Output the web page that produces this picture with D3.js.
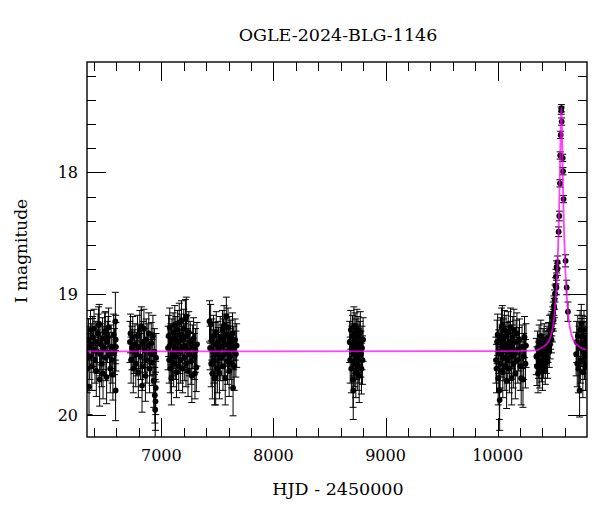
<!DOCTYPE html>
<html>
<head>
<meta charset="utf-8">
<script src="https://cdn.jsdelivr.net/npm/d3@7"></script>
<style>
html,body{margin:0;padding:0;background:#fff;}
svg{display:block;}
text{font-family:"DejaVu Serif",serif;fill:#000;}
</style>
</head>
<body>
<svg id="chart" width="600" height="512"></svg>
<script>
// ---- data (HJD-2450000, I mag, error) ----
const title = "OGLE-2024-BLG-1146";
const xLabel = "HJD - 2450000";
const yLabel = "I magnitude";
const xMajorTicks = [7000, 8000, 9000, 10000];
const yMajorTicks = [18, 19, 20];

const season2013 = [
[6340,19.62,0.20],[6345,19.45,0.18],[6350,19.38,0.17],[6355,19.77,0.23],[6362,19.52,0.19],
[6368,19.30,0.16],[6375,19.43,0.18],[6380,19.60,0.20],[6388,19.36,0.17],[6395,19.47,0.18],
[6400,19.29,0.16],[6408,19.55,0.19],[6415,19.40,0.17],[6420,19.64,0.21],[6428,19.48,0.18],
[6435,19.33,0.16],[6440,19.26,0.15],[6446,19.25,0.16],[6450,19.71,0.22],[6455,19.50,0.18],
[6462,19.42,0.17],[6468,19.58,0.19],[6475,19.37,0.17],[6480,19.66,0.21],[6488,19.45,0.18],
[6495,19.32,0.16],[6500,19.31,0.16],[6505,19.53,0.19],[6512,19.69,0.22],[6518,19.40,0.17],
[6525,19.36,0.17],[6530,19.28,0.16],[6538,19.50,0.18],[6545,19.62,0.20],[6552,19.44,0.18],
[6560,19.55,0.19],[6568,19.67,0.21],[6575,19.34,0.17],[6582,19.48,0.19],[6590,19.23,0.24],
[6592,19.80,0.25],[6593,19.38,0.20],[6595,19.44,0.20]];

const season2014 = [
[6720,19.40,0.17],[6725,19.33,0.16],[6730,19.55,0.19],[6738,19.45,0.18],[6745,19.36,0.17],
[6750,19.62,0.20],[6758,19.48,0.18],[6765,19.42,0.17],[6772,19.58,0.19],[6780,19.50,0.18],
[6788,19.35,0.17],[6795,19.65,0.21],[6800,19.44,0.18],[6808,19.30,0.16],[6815,19.52,0.19],
[6822,19.27,0.16],[6828,19.76,0.22],[6832,19.60,0.20],[6838,19.40,0.17],[6845,19.29,0.16],
[6850,19.47,0.18],[6858,19.68,0.21],[6865,19.38,0.17],[6872,19.55,0.19],[6880,19.43,0.18],
[6888,19.33,0.17],[6895,19.62,0.20],[6902,19.50,0.18],[6910,19.41,0.17],[6918,19.57,0.19],
[6925,19.35,0.17],[6932,19.72,0.22],[6938,19.48,0.19],[6942,19.84,0.23],[6945,19.96,0.25],
[6948,19.89,0.24],[6950,19.78,0.22],[6953,19.53,0.20]];

const season2015 = [
[7060,19.45,0.18],[7065,19.35,0.17],[7070,19.55,0.19],[7075,19.28,0.16],[7080,19.62,0.20],
[7085,19.42,0.17],[7090,19.70,0.22],[7095,19.38,0.17],[7100,19.50,0.18],[7105,19.32,0.16],
[7110,19.58,0.19],[7115,19.44,0.18],[7120,19.26,0.16],[7125,19.52,0.19],[7130,19.36,0.17],
[7135,19.65,0.21],[7140,19.47,0.18],[7145,19.30,0.16],[7150,19.40,0.17],[7155,19.60,0.20],
[7160,19.24,0.16],[7165,19.48,0.18],[7170,19.55,0.19],[7175,19.34,0.17],[7180,19.22,0.16],
[7185,19.45,0.18],[7190,19.62,0.20],[7195,19.38,0.17],[7200,19.29,0.16],[7205,19.53,0.19],
[7210,19.43,0.18],[7215,19.21,0.16],[7220,19.58,0.19],[7223,19.19,0.16],[7228,19.35,0.17],
[7232,19.47,0.18],[7238,19.64,0.21],[7245,19.32,0.17],[7250,19.50,0.18],[7258,19.40,0.17],
[7265,19.56,0.19],[7272,19.68,0.22],[7280,19.44,0.18],[7288,19.37,0.17],[7295,19.52,0.19],
[7300,19.66,0.21],[7305,19.47,0.18],[7312,19.61,0.20],[7318,19.42,0.18]];

const season2016 = [
[7430,19.23,0.17],[7435,19.45,0.18],[7440,19.25,0.16],[7445,19.58,0.19],[7450,19.38,0.17],
[7455,19.66,0.21],[7460,19.48,0.18],[7465,19.35,0.17],[7470,19.55,0.19],[7475,19.70,0.22],
[7480,19.42,0.18],[7485,19.70,0.22],[7490,19.32,0.17],[7495,19.50,0.18],[7500,19.62,0.20],
[7505,19.40,0.17],[7510,19.46,0.18],[7518,19.66,0.21],[7525,19.36,0.17],[7530,19.53,0.19],
[7538,19.44,0.18],[7545,19.30,0.16],[7550,19.60,0.20],[7555,19.38,0.17],[7560,19.26,0.16],
[7565,19.50,0.18],[7570,19.70,0.22],[7575,19.34,0.17],[7580,19.19,0.16],[7585,19.42,0.18],
[7590,19.56,0.19],[7595,19.28,0.16],[7600,19.47,0.18],[7605,19.64,0.21],[7610,19.36,0.17],
[7615,19.52,0.19],[7620,19.40,0.18],[7628,19.58,0.20],[7635,19.33,0.17],[7640,19.78,0.23],
[7645,19.45,0.18],[7650,19.60,0.20],[7658,19.38,0.17],[7665,19.50,0.19],[7672,19.43,0.18]];

const season2019 = [
[8680,19.40,0.17],[8685,19.55,0.19],[8690,19.30,0.16],[8695,19.62,0.20],[8700,19.45,0.18],
[8705,19.35,0.17],[8710,19.71,0.23],[8712,19.80,0.24],[8715,19.50,0.18],[8718,19.27,0.16],
[8722,19.42,0.17],[8725,19.58,0.19],[8728,19.33,0.17],[8732,19.48,0.18],[8735,19.65,0.21],
[8738,19.38,0.17],[8742,19.52,0.19],[8745,19.29,0.16],[8748,19.44,0.18],[8752,19.60,0.20],
[8755,19.36,0.17],[8758,19.47,0.18],[8762,19.55,0.19],[8765,19.68,0.22],[8770,19.41,0.18],
[8775,19.32,0.17],[8780,19.50,0.19],[8785,19.62,0.21],[8790,19.45,0.18],[8795,19.55,0.20],
[8800,19.38,0.18]];

const season2023 = [
[9985,19.55,0.19],[9990,19.62,0.20],[9995,19.40,0.18],[10000,19.34,0.17],[10005,19.70,0.22],
[10010,19.48,0.18],[10015,19.80,0.24],[10018,19.88,0.25],[10022,19.58,0.20],[10026,19.37,0.17],
[10030,19.50,0.19],[10035,19.28,0.16],[10040,19.44,0.18],[10042,19.26,0.16],[10046,19.65,0.21],
[10050,19.38,0.17],[10055,19.53,0.19],[10060,19.30,0.16],[10065,19.60,0.20],[10070,19.45,0.18],
[10075,19.35,0.17],[10080,19.72,0.23],[10085,19.42,0.18],[10090,19.55,0.19],[10095,19.32,0.17],
[10100,19.48,0.18],[10105,19.62,0.20],[10110,19.40,0.17],[10115,19.28,0.16],[10120,19.52,0.19],
[10125,19.70,0.22],[10130,19.44,0.18],[10135,19.36,0.17],[10140,19.58,0.20],[10145,19.30,0.17],
[10150,19.50,0.18],[10158,19.66,0.21],[10165,19.40,0.18],[10172,19.33,0.17],[10180,19.55,0.19],
[10188,19.46,0.18],[10195,19.38,0.17],[10202,19.60,0.20],[10210,19.70,0.22],[10218,19.44,0.18],
[10226,19.71,0.23],[10232,19.52,0.19],[10240,19.36,0.17],[10248,19.58,0.20],[10253,19.43,0.18]];

const season2024 = [
[10345,19.52,0.15],[10350,19.60,0.16],[10355,19.45,0.14],[10360,19.66,0.16],[10365,19.55,0.15],
[10370,19.40,0.14],[10375,19.62,0.16],[10380,19.50,0.15],[10385,19.35,0.13],[10390,19.58,0.15],
[10395,19.48,0.14],[10400,19.64,0.16],[10405,19.43,0.14],[10410,19.55,0.15],[10415,19.38,0.13],
[10420,19.50,0.14],[10425,19.60,0.15],[10430,19.45,0.14],[10435,19.52,0.14],[10440,19.40,0.13],
[10445,19.56,0.14],[10450,19.44,0.13],[10455,19.36,0.12],[10460,19.48,0.13],[10464,19.30,0.12],
[10468,19.42,0.12],[10472,19.35,0.11],[10476,19.28,0.11],[10480,19.38,0.11],[10484,19.25,0.10],
[10488,19.30,0.10],[10492,19.20,0.09],[10495,19.16,0.09],[10498,19.22,0.09],[10502,19.10,0.08],
[10505,19.12,0.08],[10508,19.05,0.08],[10512,19.00,0.07],[10517,18.94,0.07],[10520,18.86,0.06],
[10524,18.95,0.06],[10526,18.78,0.05],[10533,18.80,0.05],[10535,18.74,0.05],[10544,18.49,0.04],
[10550,18.36,0.04],[10556,18.09,0.03],[10558,17.86,0.03],[10562,17.69,0.03],[10567,17.49,0.03],
[10569,17.47,0.03],[10571,17.58,0.03],[10580,17.88,0.03],[10583,17.99,0.03],[10588,18.22,0.03],
[10606,18.73,0.05],[10616,18.95,0.06],[10627,19.15,0.08]];

const season2025 = [
[10700,19.50,0.18],[10705,19.40,0.17],[10710,19.58,0.19],[10715,19.35,0.17],[10720,19.62,0.20],
[10725,19.45,0.18],[10731,19.80,0.22],[10735,19.30,0.16],[10740,19.55,0.19],[10746,19.25,0.16],
[10750,19.42,0.18],[10755,19.35,0.17],[10760,19.65,0.21],[10765,19.48,0.18],[10770,19.30,0.16],
[10775,19.52,0.19],[10780,19.40,0.17],[10785,19.60,0.20],[10790,19.45,0.18],[10795,19.36,0.17]];

// model curve
const modelHJD = [6337,10200,10318,10398,10458,10490,10505,10515,10525,10535,10545,10553,10560,10565,10568,
                  10571,10576,10583,10591,10601,10611,10621,10631,10646,10678,10738,10797];
const modelMag = [19.478,19.476,19.472,19.445,19.39,19.29,19.19,19.08,18.95,18.74,18.44,18.11,17.76,17.53,17.47,
                  17.53,17.76,18.11,18.44,18.74,18.95,19.08,19.19,19.29,19.39,19.445,19.465];

// ---- layout ----
const svg = d3.select("#chart");
const L = 87, R = 587, T = 62, B = 437;
const x = d3.scaleLinear().domain([6337, 10797]).range([L, R]);
const y = d3.scaleLinear().domain([17.088, 20.185]).range([T, B]);

const allData = [].concat(season2013, season2014, season2015, season2016, season2019, season2023, season2024, season2025);

svg.append("defs").append("clipPath").attr("id","clip")
  .append("rect").attr("x",L).attr("y",T).attr("width",R-L).attr("height",B-T);

const plot = svg.append("g").attr("clip-path","url(#clip)");

// error bars
const eb = plot.append("g").attr("stroke","#000").attr("stroke-width",1).attr("fill","none");
allData.forEach(d => {
  const cx = x(d[0]), y1 = y(d[1]-d[2]), y2 = y(d[1]+d[2]);
  eb.append("line").attr("x1",cx).attr("x2",cx).attr("y1",y1).attr("y2",y2);
  eb.append("line").attr("x1",cx-3.5).attr("x2",cx+3.5).attr("y1",y1).attr("y2",y1);
  eb.append("line").attr("x1",cx-3.5).attr("x2",cx+3.5).attr("y1",y2).attr("y2",y2);
});
// points
plot.append("g").selectAll("circle").data(allData).join("circle")
  .attr("cx",d=>x(d[0])).attr("cy",d=>y(d[1])).attr("r",2.9).attr("fill","#000");

// model
const model = modelHJD.map((t,i)=>[t, modelMag[i]]);
plot.append("path").datum(model)
  .attr("d", d3.line().x(d=>x(d[0])).y(d=>y(d[1])).curve(d3.curveMonotoneX))
  .attr("fill","none").attr("stroke","#ff00ff").attr("stroke-opacity",0.75).attr("stroke-width",1.8);

// ticks
const tk = svg.append("g").attr("stroke","#000").attr("stroke-width",1);
const xMinor = d3.range(6400, 10800, 200);
xMinor.forEach(v => {
  const major = xMajorTicks.includes(v);
  const len = major ? 19 : 9;
  const px = Math.round(x(v))+0.5;
  tk.append("line").attr("x1",px).attr("x2",px).attr("y1",B).attr("y2",B-len);
  tk.append("line").attr("x1",px).attr("x2",px).attr("y1",T).attr("y2",T+len);
});
const yMinor = d3.range(17.2, 20.1, 0.2).map(v=>Math.round(v*10)/10);
yMinor.forEach(v => {
  const major = yMajorTicks.includes(v);
  const len = major ? 19 : 9;
  const py = Math.round(y(v))+0.5;
  tk.append("line").attr("x1",L).attr("x2",L+len).attr("y1",py).attr("y2",py);
  tk.append("line").attr("x1",R).attr("x2",R-len).attr("y1",py).attr("y2",py);
});

// frame
svg.append("rect").attr("x",L).attr("y",T).attr("width",R-L).attr("height",B-T)
  .attr("fill","none").attr("stroke","#000").attr("stroke-width",1.4);

// tick labels
svg.append("g").selectAll("text").data(xMajorTicks).join("text")
  .attr("x",d=>x(d)).attr("y",461).attr("text-anchor","middle")
  .attr("font-size",16).text(d=>d);
svg.append("g").selectAll("text").data(yMajorTicks).join("text")
  .attr("x",78).attr("y",d=>y(d)+6).attr("text-anchor","end")
  .attr("font-size",16).text(d=>d);

// titles
svg.append("text").attr("x",338).attr("y",41).attr("text-anchor","middle")
  .attr("font-size",17.5).text(title);
svg.append("text").attr("x",338).attr("y",495).attr("text-anchor","middle")
  .attr("font-size",17.5).text(xLabel);
svg.append("text").attr("transform","translate(27,251) rotate(-90)").attr("text-anchor","middle")
  .attr("font-size",17).text(yLabel);
</script>
</body>
</html>
